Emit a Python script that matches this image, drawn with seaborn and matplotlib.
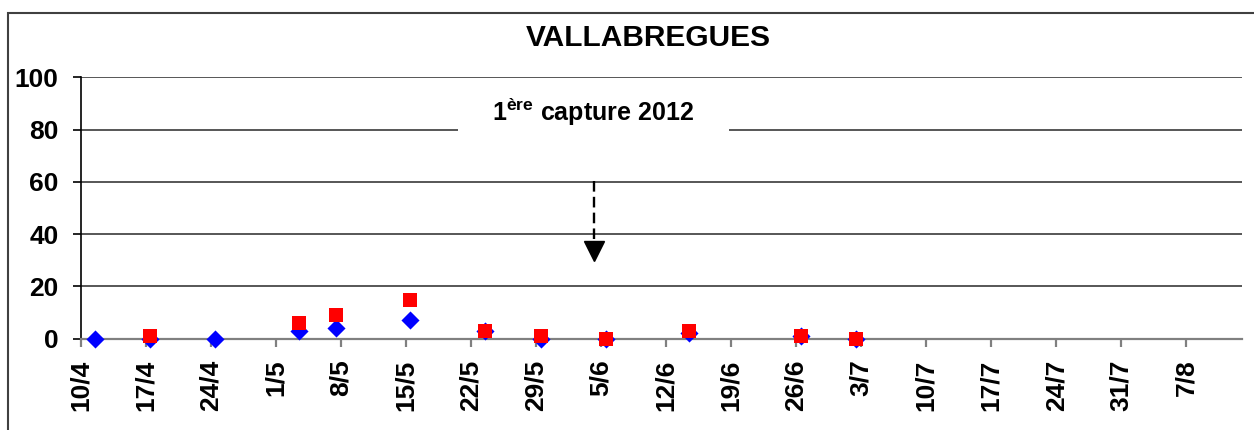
import matplotlib.pyplot as plt
import matplotlib.patches as mpatches
import seaborn as sns
import pandas as pd
import numpy as np

# Releves de piegeage 2012
dates = ['2012-04-11', '2012-04-17', '2012-04-24', '2012-05-03', '2012-05-07',
         '2012-05-15', '2012-05-23', '2012-05-29', '2012-06-05', '2012-06-14',
         '2012-06-26', '2012-07-02']
serie_bleue = [0, 0, 0, 3, 4, 7, 3, 0, 0, 2, 1, 0]
serie_rouge = [np.nan, 1, np.nan, 6, 9, 15, 3, 1, 0, 3, 1, 0]

tick_dates = ['2012-04-10', '2012-04-17', '2012-04-24', '2012-05-01', '2012-05-08',
              '2012-05-15', '2012-05-22', '2012-05-29', '2012-06-05', '2012-06-12',
              '2012-06-19', '2012-06-26', '2012-07-03', '2012-07-10', '2012-07-17',
              '2012-07-24', '2012-07-31', '2012-08-07']
tick_labels = ['10/4', '17/4', '24/4', '1/5', '8/5', '15/5', '22/5', '29/5', '5/6',
               '12/6', '19/6', '26/6', '3/7', '10/7', '17/7', '24/7', '31/7', '7/8']
y_ticks = [0, 20, 40, 60, 80, 100]

premiere_capture = '2012-06-04 07:00'

sns.set_style('white')
plt.rcParams['font.family'] = ['Liberation Sans', 'DejaVu Sans']
plt.rcParams['font.weight'] = 'bold'
plt.rcParams['text.color'] = 'black'
plt.rcParams['xtick.labelcolor'] = 'black'
plt.rcParams['ytick.labelcolor'] = 'black'
plt.rcParams['mathtext.fontset'] = 'custom'
plt.rcParams['mathtext.rm'] = 'Liberation Sans:bold'
plt.rcParams['mathtext.it'] = 'Liberation Sans:bold'
plt.rcParams['mathtext.bf'] = 'Liberation Sans:bold'

# points places au milieu du jour (axe date Excel)
df = pd.DataFrame({
    'date': pd.to_datetime(dates) + pd.Timedelta(hours=12),
    'bleu': serie_bleue,
    'rouge': serie_rouge,
})

fig = plt.figure(figsize=(12.54, 4.30), dpi=100)
ax = fig.add_axes([0.0643, 0.2123, 0.9261, 0.6079])

sns.scatterplot(data=df, x='date', y='bleu', marker='D', s=85, color='#0000ff',
                linewidth=0, ax=ax, zorder=4, clip_on=False)
sns.scatterplot(data=df.dropna(), x='date', y='rouge', marker='s', s=110,
                color='#ff0000', linewidth=0, ax=ax, zorder=5, clip_on=False)

ax.set_xlim(pd.Timestamp('2012-04-10'), pd.Timestamp('2012-08-13'))
ax.set_ylim(0, 100)
ax.set_xticks(pd.to_datetime(tick_dates))
ax.set_xticklabels(tick_labels, rotation=90, fontsize=19, fontweight='bold')
ax.set_yticks(y_ticks)
ax.set_yticklabels([str(v) for v in y_ticks], fontsize=19, fontweight='bold')
ax.set_xlabel('')
ax.set_ylabel('')

ax.set_axisbelow(True)
ax.yaxis.grid(True, color='#3a3a3a', lw=1.2)
ax.xaxis.grid(False)
for s in ['top', 'right']:
    ax.spines[s].set_visible(False)
ax.spines['left'].set_color('black')
ax.spines['left'].set_linewidth(1.2)
ax.spines['bottom'].set_color('#808080')
ax.spines['bottom'].set_linewidth(1.6)
ax.tick_params(axis='y', direction='out', length=6, width=1.2, color='black',
               labelcolor='black', pad=10, left=True)
ax.tick_params(axis='x', direction='out', length=6, width=1.6, color='#808080',
               labelcolor='black', pad=9, bottom=True)

# encadre blanc du texte
ax.add_patch(mpatches.Rectangle((0.325, 0.72), 0.2333, 0.2, transform=ax.transAxes,
                                facecolor='white', edgecolor='none', zorder=1))
ax.text(0.441, 83.4, r'1$^{\mathrm{ère}}$ capture 2012', transform=ax.get_yaxis_transform(),
        ha='center', va='baseline', fontsize=18, fontweight='bold', color='black', zorder=3)

# fleche premiere capture
x_fl = pd.Timestamp(premiere_capture)
ax.plot([x_fl, x_fl], [60.5, 38], color='black', lw=1.7, ls=(0, (4.5, 2.2)), zorder=3)
ax.plot([x_fl], [33.4], marker='v', markersize=15, color='black', zorder=3)

fig.text(0.5167, 0.9116, 'VALLABREGUES', ha='center', va='center',
         fontsize=21.5, fontweight='bold', color='black')

# cadre exterieur
fig.add_artist(mpatches.Rectangle((8 / 1254, -0.2), 1.2, 1.2 - 12.7 / 430,
                                  transform=fig.transFigure, fill=False,
                                  edgecolor='#404040', lw=1.5))

fig.savefig('out.png', dpi=100)
